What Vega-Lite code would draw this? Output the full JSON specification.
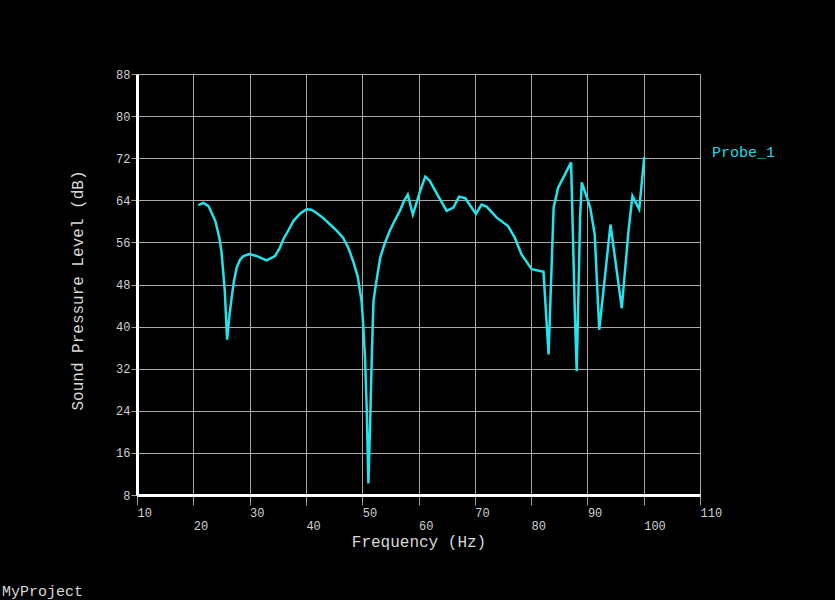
{
  "$schema": "https://vega.github.io/schema/vega-lite/v6.json",
  "width": 563,
  "height": 421,
  "autosize": {"type": "none"},
  "padding": {"left": 137, "top": 74, "right": 135, "bottom": 105},
  "background": "#000000",
  "config": {
    "view": {"stroke": null},
    "font": "Liberation Mono"
  },
  "title": {
    "text": "MyProject",
    "orient": "bottom",
    "anchor": "start",
    "frame": "group",
    "font": "Liberation Mono",
    "fontSize": 15,
    "fontWeight": "normal",
    "color": "#d8d8d8",
    "offset": 35,
    "dx": -135
  },
  "data": {
    "values": [
      {"f": 20.9, "spl": 63.1}, {"f": 21.8, "spl": 63.5}, {"f": 22.7, "spl": 62.9},
      {"f": 23.9, "spl": 60.1}, {"f": 24.6, "spl": 57.0}, {"f": 25.0, "spl": 54.3},
      {"f": 25.3, "spl": 50.5}, {"f": 25.6, "spl": 46.7}, {"f": 26.0, "spl": 37.5},
      {"f": 26.4, "spl": 42.0}, {"f": 26.8, "spl": 45.4}, {"f": 27.2, "spl": 48.5},
      {"f": 27.7, "spl": 51.2}, {"f": 28.3, "spl": 52.7}, {"f": 28.9, "spl": 53.4},
      {"f": 29.95, "spl": 53.8}, {"f": 31.3, "spl": 53.4}, {"f": 33.0, "spl": 52.6},
      {"f": 34.5, "spl": 53.4}, {"f": 35.3, "spl": 54.8}, {"f": 36.0, "spl": 56.6},
      {"f": 37.0, "spl": 58.5}, {"f": 37.8, "spl": 60.1}, {"f": 39.0, "spl": 61.5},
      {"f": 40.1, "spl": 62.3}, {"f": 41.0, "spl": 62.2}, {"f": 41.9, "spl": 61.6},
      {"f": 43.0, "spl": 60.7}, {"f": 44.3, "spl": 59.4}, {"f": 45.5, "spl": 58.2},
      {"f": 46.6, "spl": 56.9}, {"f": 47.6, "spl": 54.8}, {"f": 48.4, "spl": 52.4},
      {"f": 49.2, "spl": 49.5}, {"f": 49.9, "spl": 44.8}, {"f": 50.2, "spl": 40.0},
      {"f": 50.5, "spl": 34.0}, {"f": 50.8, "spl": 24.5}, {"f": 51.1, "spl": 10.2},
      {"f": 51.4, "spl": 21.3}, {"f": 51.7, "spl": 34.0}, {"f": 52.0, "spl": 44.8},
      {"f": 52.5, "spl": 48.5}, {"f": 53.2, "spl": 53.1}, {"f": 54.0, "spl": 55.8},
      {"f": 54.9, "spl": 58.2}, {"f": 55.8, "spl": 60.2}, {"f": 56.7, "spl": 62.0},
      {"f": 57.4, "spl": 63.8}, {"f": 58.1, "spl": 65.1}, {"f": 59.0, "spl": 61.3},
      {"f": 60.3, "spl": 65.8}, {"f": 61.2, "spl": 68.5}, {"f": 62.0, "spl": 67.7},
      {"f": 63.5, "spl": 64.8}, {"f": 65.0, "spl": 62.0}, {"f": 66.2, "spl": 62.6},
      {"f": 67.2, "spl": 64.7}, {"f": 68.3, "spl": 64.4}, {"f": 70.2, "spl": 61.4},
      {"f": 71.2, "spl": 63.2}, {"f": 72.1, "spl": 62.8}, {"f": 73.9, "spl": 60.7},
      {"f": 75.9, "spl": 59.1}, {"f": 77.1, "spl": 56.9}, {"f": 78.3, "spl": 53.7},
      {"f": 80.1, "spl": 50.9}, {"f": 82.2, "spl": 50.4}, {"f": 83.1, "spl": 34.7},
      {"f": 84.0, "spl": 62.6}, {"f": 84.8, "spl": 66.4}, {"f": 87.1, "spl": 71.2},
      {"f": 87.8, "spl": 41.6}, {"f": 88.1, "spl": 31.5}, {"f": 88.7, "spl": 60.7},
      {"f": 89.0, "spl": 67.4}, {"f": 90.5, "spl": 62.6}, {"f": 91.3, "spl": 57.5},
      {"f": 92.1, "spl": 39.4}, {"f": 94.1, "spl": 59.4}, {"f": 96.1, "spl": 43.5},
      {"f": 97.3, "spl": 58.2}, {"f": 98.0, "spl": 64.8}, {"f": 99.2, "spl": 62.3},
      {"f": 100.1, "spl": 72.2}
    ]
  },
  "transform": [{"calculate": "'Probe_1'", "as": "probe"}],
  "mark": {"type": "line", "strokeWidth": 2.5, "clip": true},
  "encoding": {
    "x": {
      "field": "f",
      "type": "quantitative",
      "scale": {"domain": [10, 110], "nice": false, "zero": false},
      "axis": {
        "title": "Frequency (Hz)",
        "values": [10, 20, 30, 40, 50, 60, 70, 80, 90, 100, 110],
        "labelExpr": "datum.value % 20 == 0 ? ['', datum.label] : datum.label",
        "labelAlign": "left",
        "labelBaseline": "top",
        "labelLineHeight": 13,
        "labelFlush": false,
        "labelOverlap": false,
        "labelPadding": 2,
        "labelFontSize": 12,
        "labelColor": "#d0d0d0",
        "labelFont": "Liberation Mono",
        "tickSize": 10,
        "tickColor": "#a0a0a0",
        "tickWidth": 1,
        "domainColor": "#ffffff",
        "domainWidth": 3,
        "gridColor": "#a8a8a8",
        "gridWidth": 1,
        "gridOpacity": 1,
        "titleFont": "Liberation Mono",
        "titleFontSize": 16,
        "titleFontWeight": "normal",
        "titleColor": "#d8d8d8",
        "titleBaseline": "middle",
        "titleY": 46
      }
    },
    "y": {
      "field": "spl",
      "type": "quantitative",
      "scale": {"domain": [8, 88], "nice": false, "zero": false},
      "axis": {
        "title": "Sound Pressure Level (dB)",
        "values": [8, 16, 24, 32, 40, 48, 56, 64, 72, 80, 88],
        "labelFontSize": 12,
        "labelColor": "#d0d0d0",
        "labelFont": "Liberation Mono",
        "labelPadding": 1,
        "labelOverlap": false,
        "labelFlush": false,
        "tickSize": 6,
        "tickColor": "#a0a0a0",
        "domainColor": "#ffffff",
        "domainWidth": 3,
        "gridColor": "#a8a8a8",
        "gridWidth": 1,
        "gridOpacity": 1,
        "titleFont": "Liberation Mono",
        "titleFontSize": 16,
        "titleFontWeight": "normal",
        "titleColor": "#d8d8d8",
        "titleBaseline": "middle",
        "titleX": -60,
        "titleY": 216
      }
    },
    "color": {
      "field": "probe",
      "type": "nominal",
      "scale": {"domain": ["Probe_1"], "range": ["#22e4ec"]},
      "legend": {
        "title": null,
        "orient": "none",
        "legendX": 560,
        "legendY": 70,
        "symbolType": "stroke",
        "symbolSize": 0,
        "symbolStrokeWidth": 0,
        "symbolOpacity": 0,
        "labelOffset": 0,
        "labelFont": "Liberation Mono",
        "labelFontSize": 15,
        "labelColor": "#22d8e0"
      }
    }
  }
}
